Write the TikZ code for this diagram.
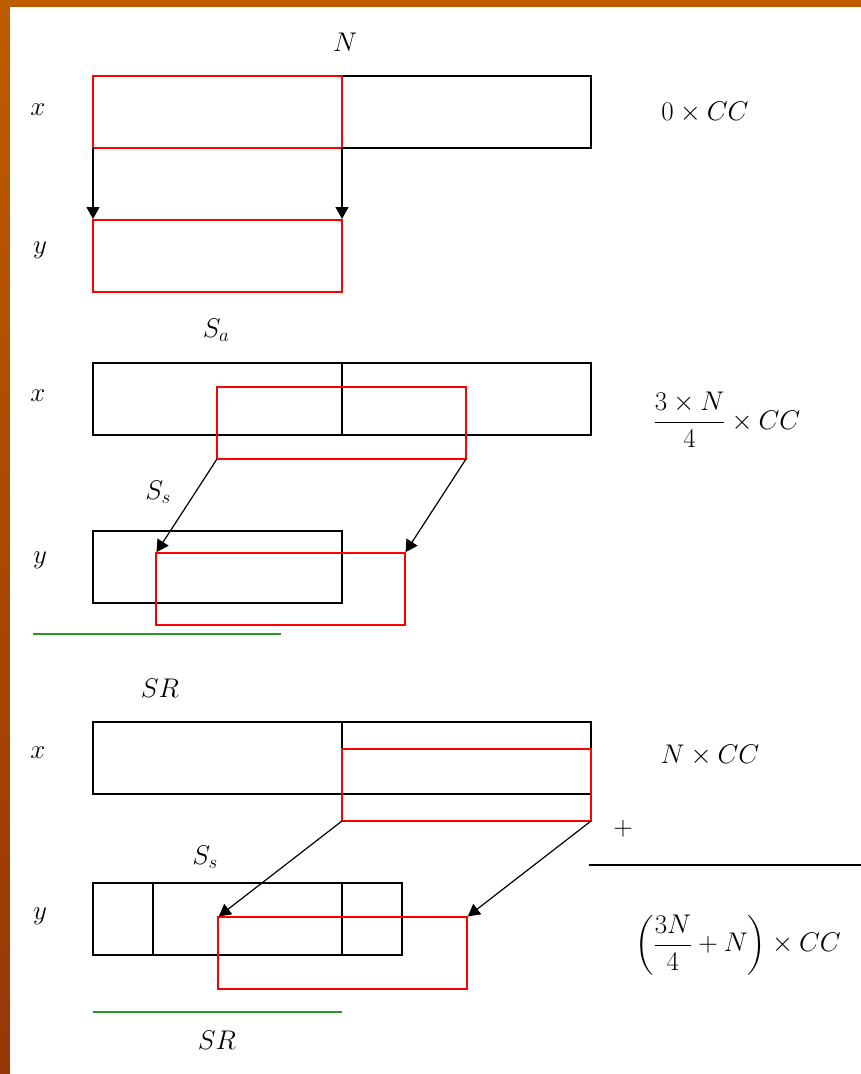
\documentclass[tikz,border=0pt]{standalone}
\usepackage{fix-cm}
\usepackage{amsmath}
\usetikzlibrary{arrows.meta}
\definecolor{slideor}{RGB}{190,92,0}
\definecolor{slideorD}{RGB}{150,55,8}
\definecolor{grn}{RGB}{40,150,40}
\tikzset{
  cell/.style={draw=black, line width=2.3pt, minimum width=249pt, minimum height=72pt, anchor=north west, inner sep=0pt, outer sep=0pt},
  redcell/.style={draw=red, line width=2pt, minimum width=249pt, minimum height=72pt, anchor=north west, inner sep=0pt, outer sep=0pt},
  arr/.style={draw=black, line width=1.2pt, -{Triangle[length=12pt,width=13pt]}, shorten >=1pt},
  lbl/.style={inner sep=0pt, font=\fontsize{27}{31}\selectfont},
  grline/.style={draw=grn, line width=2.2pt}
}
\begin{document}
\begin{tikzpicture}[x=1pt,y=-1pt]
\useasboundingbox (0,0) rectangle (861,1074);
% slide background
\shade[top color=slideor, bottom color=slideorD] (0,0) rectangle (861,1074);
\fill[white] (10,7) rectangle (861,1074);

% ---------- section 1 ----------
\node[lbl] (N1) at (345,42) {$N$};
\node[lbl] (x1) at (38,110) {$x$};
\node[lbl] (y1) at (40,250) {$y$};
\node[cell] (x1b) at (342,76) {};
\node[redcell] (x1r) at (93,76) {};
\node[redcell] (y1r) at (93,220) {};
\draw[arr] (x1r.south west) -- (y1r.north west);
\draw[arr] (x1r.south east) -- (y1r.north east);
\node[lbl] (c1) at (705,112) {$0\times CC$};

% ---------- section 2 ----------
\node[lbl] (Sa) at (216,330) {$S_a$};
\node[lbl] (x2) at (38,396) {$x$};
\node[lbl] (y2) at (40,560) {$y$};
\node[cell] (x2a) at (93,363) {};
\node[cell] (x2b) at (342,363) {};
\node[redcell] (x2r) at (217,387) {};
\node[cell] (y2b) at (93,531) {};
\node[redcell] (y2r) at (156,553) {};
\draw[arr] (x2r.south west) -- (y2r.north west);
\draw[arr] (x2r.south east) -- (y2r.north east);
\node[lbl] (Ss1) at (158,492) {$S_s$};
\coordinate (g1a) at (33,634);
\coordinate (g1b) at (281,634);
\draw[grline] (g1a) -- (g1b);
\node[lbl] (c2) at (727,420) {$\dfrac{3\times N}{4}\times CC$};

% ---------- section 3 ----------
\node[lbl] (SR1) at (160,688) {$SR$};
\node[lbl] (x3) at (38,753) {$x$};
\node[lbl] (y3) at (40,916) {$y$};
\node[cell] (x3a) at (93,722) {};
\node[cell] (x3b) at (342,722) {};
\node[redcell] (x3r) at (342,749) {};
\node[cell] (y3a) at (93,883) {};
\node[cell] (y3b) at (153,883) {};
\node[redcell] (y3r) at (218,917) {};
\draw[arr] (x3r.south west) -- (y3r.north west);
\draw[arr] (x3r.south east) -- (y3r.north east);
\node[lbl] (Ss2) at (205,857) {$S_s$};
\coordinate (g2a) at (93,1012);
\coordinate (g2b) at (342,1012);
\draw[grline] (g2a) -- (g2b);
\node[lbl] (SR2) at (217,1040) {$SR$};
\node[lbl] (c3) at (710,755) {$N\times CC$};
\node[lbl] (plus) at (623,829) {$+$};
\coordinate (s1) at (589,865);
\coordinate (s2) at (861,865);
\draw[line width=1.3pt] (s1) -- (s2);
\node[lbl] (c4) at (738,945) {$\left(\dfrac{3N}{4}+N\right)\times CC$};
\end{tikzpicture}
\end{document}
